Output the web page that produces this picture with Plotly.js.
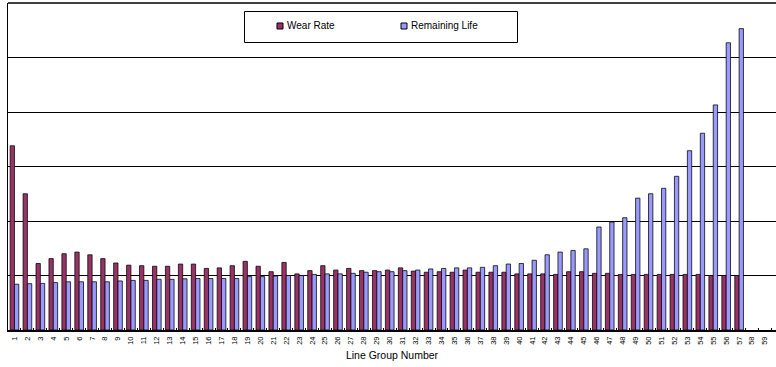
<!DOCTYPE html>
<html>
<head>
<meta charset="utf-8">
<script src="https://cdn.plot.ly/plotly-3.0.1.min.js"></script>
<style>html,body{margin:0;padding:0;background:#fff;overflow:hidden}#chart{width:776px;height:367px}</style>
</head>
<body>
<div id="chart"></div>
<script>
// Category labels (line group numbers 1..60)
const groupLabels = ["1","2","3","4","5","6","7","8","9","10","11","12","13","14","15","16","17","18","19","20",
  "21","22","23","24","25","26","27","28","29","30","31","32","33","34","35","36","37","38","39","40",
  "41","42","43","44","45","46","47","48","49","50","51","52","53","54","55","56","57","58","59","60"];
const barGroups = groupLabels.slice(0, 57);

// Series names
const seriesNames = ["Wear Rate", "Remaining Life"];
const seriesColors = ["#993366", "#9999FF"];

// Wear Rate (relative units, one gridline = 1)
const wearRate = [3.38,2.50,1.22,1.31,1.40,1.43,1.38,1.31,1.23,1.19,
  1.18,1.17,1.17,1.21,1.21,1.13,1.14,1.18,1.26,1.17,
  1.07,1.24,1.03,1.09,1.18,1.10,1.13,1.09,1.09,1.10,
  1.14,1.08,1.06,1.07,1.06,1.10,1.06,1.06,1.06,1.03,
  1.03,1.03,1.02,1.07,1.07,1.04,1.04,1.02,1.02,1.02,
  1.02,1.02,1.02,1.02,1.00,1.00,1.00];

// Remaining Life (relative units)
const remainingLife = [0.84,0.85,0.855,0.87,0.885,0.885,0.885,0.885,0.90,0.91,
  0.91,0.93,0.93,0.94,0.945,0.945,0.945,0.945,0.98,0.98,
  0.99,1.00,1.00,1.02,1.03,1.03,1.04,1.06,1.07,1.07,
  1.09,1.10,1.12,1.13,1.14,1.14,1.15,1.18,1.21,1.22,
  1.28,1.38,1.43,1.46,1.49,1.89,1.98,2.06,2.42,2.50,
  2.60,2.82,3.29,3.61,4.13,5.27,5.53];

const traces = [
  {type:'bar', name:seriesNames[0], x:barGroups, y:wearRate,
   marker:{color:seriesColors[0], line:{color:'#000', width:0.75}}},
  {type:'bar', name:seriesNames[1], x:barGroups, y:remainingLife,
   marker:{color:seriesColors[1], line:{color:'#000', width:0.75}}}
];

// plot-area helpers for the hand-drawn Excel-style legend (pixel -> paper)
const L = 8, R = 776, T = 3, B = 330;
const px = v => (v - L) / (R - L);
const py = v => (B - v) / (B - T);

const legendSymbols = [277, 401];
const shapes = [
  {type:'line', xref:'paper', yref:'paper', x0:0, x1:1.05, y0:1, y1:1, line:{color:'#000', width:1.5}},
  {type:'rect', xref:'paper', yref:'paper', x0:px(244.5), x1:px(517.5), y0:py(11.5), y1:py(42.5),
   fillcolor:'#fff', line:{color:'#000', width:1}}
];
const annotations = [];
seriesNames.forEach((n, i) => {
  const sx = legendSymbols[i];
  shapes.push({type:'rect', xref:'paper', yref:'paper', x0:px(sx), x1:px(sx + 6), y0:py(23), y1:py(29),
    fillcolor:seriesColors[i], line:{color:'#000', width:1}});
  annotations.push({xref:'paper', yref:'paper', x:px(sx + 7.5), y:py(26), xanchor:'left', yanchor:'middle',
    text:n, showarrow:false, font:{size:10, color:'#000'}});
});

const layout = {
  width:776, height:367,
  margin:{l:L, r:776 - R, t:T, b:367 - B},
  paper_bgcolor:'#fff', plot_bgcolor:'#fff',
  barmode:'group', bargap:0.33, bargroupgap:0,
  font:{family:'"Liberation Sans", Arial, sans-serif', color:'#000'},
  showlegend:false,
  xaxis:{type:'category', categoryorder:'array', categoryarray:groupLabels,
    tickvals:groupLabels, ticktext:groupLabels,
    range:[-0.5, 58.85], tickangle:-90, tickfont:{size:7.5, color:'#000'},
    ticks:'inside', ticklen:2, tickcolor:'#000', tickson:'boundaries', ticklabelstandoff:2,
    showline:true, linecolor:'#000', linewidth:1.5, showgrid:false, zeroline:false,
    title:{text:'Line Group Number', font:{size:10.5, color:'#000'}, standoff:8},
    fixedrange:true},
  yaxis:{range:[0,6], dtick:1, showticklabels:false, ticks:'',
    showgrid:true, gridcolor:'#000', gridwidth:1,
    showline:true, linecolor:'#000', linewidth:1.5, zeroline:false, fixedrange:true},
  shapes:shapes,
  annotations:annotations
};

Plotly.newPlot('chart', traces, layout, {displayModeBar:false, staticPlot:true});
</script>
</body>
</html>
